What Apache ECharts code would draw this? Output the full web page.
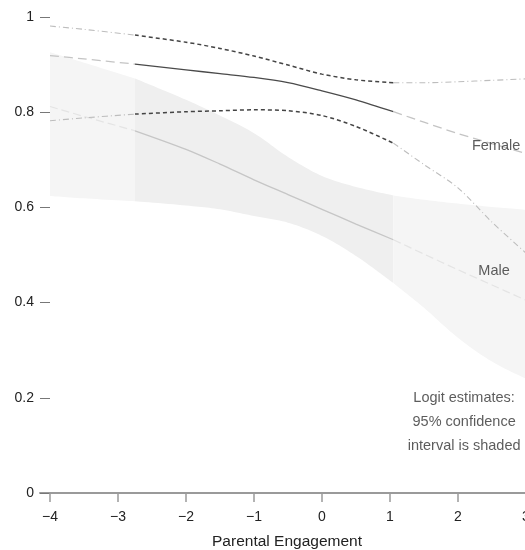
<!DOCTYPE html>
<html>
<head>
<meta charset="utf-8">
<script src="https://cdn.jsdelivr.net/npm/echarts@6/dist/echarts.min.js"></script>
<style>html,body{margin:0;padding:0;background:#fff}#c{width:525px;height:550px}</style>
</head>
<body>
<div id="c"></div>
<script>
// x positions (Parental Engagement)
const xs          = [-4,    -3.5,  -2.75, -2,    -1.5,  -1,    -0.5,  0,     0.5,   1.05,  1.5,   2,     2.5,   3];
const femaleMean  = [0.919, 0.912, 0.901, 0.889, 0.881, 0.873, 0.862, 0.845, 0.826, 0.801, 0.779, 0.755, 0.734, 0.713];
const femaleUpper = [0.981, 0.974, 0.962, 0.947, 0.934, 0.918, 0.899, 0.880, 0.868, 0.862, 0.862, 0.864, 0.867, 0.870];
const femaleLower = [0.782, 0.788, 0.796, 0.801, 0.803, 0.805, 0.803, 0.793, 0.770, 0.735, 0.690, 0.641, 0.569, 0.504];
const maleMean    = [0.812, 0.791, 0.761, 0.722, 0.691, 0.658, 0.627, 0.596, 0.565, 0.532, 0.502, 0.469, 0.437, 0.405];
const maleUpper   = [0.926, 0.904, 0.871, 0.826, 0.793, 0.756, 0.706, 0.666, 0.643, 0.625, 0.616, 0.608, 0.601, 0.595];
const maleLower   = [0.624, 0.619, 0.613, 0.604, 0.596, 0.582, 0.568, 0.540, 0.498, 0.441, 0.389, 0.326, 0.276, 0.240];
const obsMin = -2.75, obsMax = 1.05;   // observed data range (darker rendering)
const xTicks = [-4, -3, -2, -1, 0, 1, 2, 3];
const yTicks = [0, 0.2, 0.4, 0.6, 0.8, 1];
const labels = [
  {x: 2.56, y: 0.729, text: 'Female'},
  {x: 2.53, y: 0.466, text: 'Male'},
  {x: 2.09, y: 0.149, text: 'Logit estimates:\n95% confidence\ninterval is shaded'}
];

const FONT = '"Liberation Sans", Arial, Helvetica, sans-serif';

function inPart(x, part) {
  if (part === 'left') return x <= obsMin;
  if (part === 'mid') return x >= obsMin && x <= obsMax;
  return x >= obsMax;
}
function seg(arr, part) {
  const out = [];
  xs.forEach((x, i) => { if (inPart(x, part)) out.push([x, arr[i]]); });
  return out;
}
// Catmull-Rom smoothing of pixel points (rendering only)
function smoothPts(p) {
  if (p.length < 3) return p.slice();
  const out = [], n = p.length, steps = 12;
  for (let i = 0; i < n - 1; i++) {
    const p0 = p[Math.max(i - 1, 0)], p1 = p[i], p2 = p[i + 1], p3 = p[Math.min(i + 2, n - 1)];
    const c1 = [p1[0] + (p2[0] - p0[0]) / 6, p1[1] + (p2[1] - p0[1]) / 6];
    const c2 = [p2[0] - (p3[0] - p1[0]) / 6, p2[1] - (p3[1] - p1[1]) / 6];
    for (let s = 0; s < steps; s++) {
      const t = s / steps, u = 1 - t;
      out.push([
        u*u*u*p1[0] + 3*u*u*t*c1[0] + 3*u*t*t*c2[0] + t*t*t*p2[0],
        u*u*u*p1[1] + 3*u*u*t*c1[1] + 3*u*t*t*c2[1] + t*t*t*p2[1]
      ]);
    }
  }
  out.push(p[n - 1]);
  return out;
}
function bandSeries(part, color) {
  const d = [];
  xs.forEach((x, i) => { if (inPart(x, part)) d.push([x, maleLower[i], maleUpper[i]]); });
  return {
    type: 'custom', z: 1, silent: true,
    data: d,
    encode: {x: 0, y: [1, 2]},
    renderItem: function (params, api) {
      if (params.dataIndex !== 0) return null;
      const up = smoothPts(d.map(r => api.coord([r[0], r[2]])));
      const lo = smoothPts(d.map(r => api.coord([r[0], r[1]])));
      const pts = up.concat(lo.reverse());
      return {type: 'polygon', shape: {points: pts}, style: {fill: color}};
    }
  };
}
function lineSeries(arr, part, color, width, type) {
  return {
    type: 'line', z: 3, silent: true, showSymbol: false, symbol: 'none',
    smooth: 0.3,
    data: seg(arr, part),
    lineStyle: {color: color, width: width, type: type}
  };
}

const series = [
  bandSeries('left', '#f5f5f5'),
  bandSeries('mid', '#efefef'),
  bandSeries('right', '#f5f5f5'),
  // male mean
  lineSeries(maleMean, 'left', '#e4e4e4', 1.2, [8, 4]),
  lineSeries(maleMean, 'mid', '#c6c6c6', 1.3, 'solid'),
  lineSeries(maleMean, 'right', '#e4e4e4', 1.2, [8, 4]),
  // female mean
  lineSeries(femaleMean, 'left', '#c4c4c4', 1.3, [9, 5]),
  lineSeries(femaleMean, 'mid', '#4a4a4a', 1.3, 'solid'),
  lineSeries(femaleMean, 'right', '#c4c4c4', 1.3, [9, 5]),
  // female CI
  lineSeries(femaleUpper, 'left', '#bdbdbd', 1.1, [6, 3, 1, 3]),
  lineSeries(femaleUpper, 'mid', '#444', 1.5, [4, 3]),
  lineSeries(femaleUpper, 'right', '#bdbdbd', 1.1, [6, 3, 1, 3]),
  lineSeries(femaleLower, 'left', '#bdbdbd', 1.1, [6, 3, 1, 3]),
  lineSeries(femaleLower, 'mid', '#444', 1.5, [4, 3]),
  lineSeries(femaleLower, 'right', '#bdbdbd', 1.1, [6, 3, 1, 3]),
  {
    type: 'scatter', z: 5, silent: true, symbolSize: 0,
    data: labels.map(l => ({value: [l.x, l.y], name: l.text})),
    label: {
      show: true, position: 'inside', formatter: p => p.name,
      color: '#333', fontSize: 14.5, fontFamily: FONT, lineHeight: 24, align: 'center'
    }
  }
];

const chart = echarts.init(document.getElementById('c'), null, {renderer: 'canvas'});
chart.setOption({
  animation: false,
  backgroundColor: '#fff',
  grid: {left: 40, top: 17, width: 494, height: 476, containLabel: false, outerBoundsMode: 'none'},
  xAxis: {
    type: 'value', min: -4.147, max: 3.118,
    name: 'Parental Engagement', nameLocation: 'middle', nameGap: 41,
    nameTextStyle: {color: '#222', fontSize: 15.5, fontFamily: FONT},
    axisLine: {show: true, onZero: false, lineStyle: {color: '#9a9a9a', width: 2}},
    axisTick: {show: true, customValues: xTicks, length: 9, lineStyle: {color: '#9a9a9a', width: 1.5}},
    axisLabel: {customValues: xTicks, margin: 17, color: '#222', fontSize: 14, fontFamily: FONT,
      formatter: v => String(v).replace('-', '\u2212')},
    splitLine: {show: false}
  },
  yAxis: {
    type: 'value', min: 0, max: 1, interval: 0.2,
    axisLine: {show: false, onZero: false},
    axisTick: {show: true, inside: true, length: 10, lineStyle: {color: '#777', width: 1}},
    axisLabel: {customValues: yTicks, margin: 6, color: '#222', fontSize: 14, fontFamily: FONT,
      formatter: v => String(Math.round(v * 10) / 10)},
    splitLine: {show: false}
  },
  series: series
});
</script>
</body>
</html>
